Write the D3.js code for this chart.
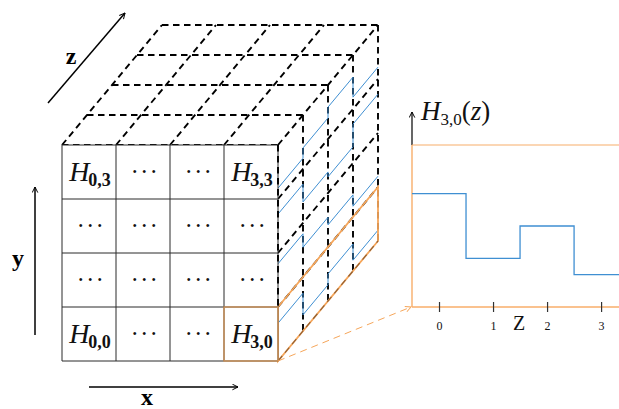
<!DOCTYPE html>
<html>
<head>
<meta charset="utf-8">
<script src="https://cdn.jsdelivr.net/npm/d3@7"></script>
<style>
  html, body { margin: 0; padding: 0; background: #fff; }
  svg { display: block; }
  .serif { font-family: "Liberation Serif", "DejaVu Serif", serif; }
</style>
</head>
<body>
<div id="chart"></div>
<script>
// --- datos ---
const layers = [0, 1, 2, 3];                 // índice z de cada capa
const zTicks = [0, 1, 2, 3];
const h30 = [0.70, 0.30, 0.50, 0.20];        // H_{3,0}(z), altura relativa
const h31 = [0.80, 0.55, 0.41, 0.20];
const h32 = [0.72, 0.39, 0.30, 0.72];
const h33 = [0.20, 0.39, 0.59, 0.22];
const rowsLastCol = [h30, h31, h32, h33];
const cellLabels = [
  ["H|0,0", "⋯", "⋯", "H|3,0"],
  ["⋯", "⋯", "⋯", "⋯"],
  ["⋯", "⋯", "⋯", "⋯"],
  ["H|0,3", "⋯", "⋯", "H|3,3"]
];

const width = 619, height = 409;
const svg = d3.select("#chart").append("svg")
  .attr("width", width).attr("height", height);

const defs = svg.append("defs");
function arrowMarker(id, color) {
  defs.append("marker").attr("id", id)
    .attr("viewBox", "0 0 10 10").attr("refX", 9).attr("refY", 5)
    .attr("markerWidth", 7).attr("markerHeight", 7)
    .attr("markerUnits", "userSpaceOnUse")
    .attr("orient", "auto")
    .append("path").attr("d", "M1,1 L9,5 L1,9").attr("fill", "none")
    .attr("stroke", color).attr("stroke-width", 1.4);
}
arrowMarker("arrK", "#000");
arrowMarker("arrO", "#f6a65a");

// --- escalas del cubo ---
const xCell = d3.scaleLinear().domain([0, 4]).range([62, 278]);
const yCell = d3.scaleLinear().domain([0, 4]).range([361, 145]);
const dX = d3.scaleLinear().domain([0, 4]).range([0, 100]);
const dY = d3.scaleLinear().domain([0, 4]).range([0, -120]);
const proj = (cx, cy, d) => [xCell(cx) + dX(d), yCell(cy) + dY(d)];

const dash = "6.5,4.5";
const dashW = 1.9;
const g = svg.append("g");

function dashed(a, b) {
  g.append("line").attr("x1", a[0]).attr("y1", a[1]).attr("x2", b[0]).attr("y2", b[1])
    .attr("stroke", "#000").attr("stroke-width", dashW).attr("stroke-dasharray", dash);
}

// cara superior (discontinua)
d3.range(0, 5).forEach(k => dashed(proj(0, 4, k), proj(4, 4, k)));
d3.range(0, 5).forEach(i => dashed(proj(i, 4, 0), proj(i, 4, 4)));
// cara lateral: diagonales en profundidad y verticales de cada capa
[1, 2, 3].forEach(j => dashed(proj(4, j, 0), proj(4, j, 4)));
d3.range(1, 5).forEach(k => dashed(proj(4, 4, k), proj(4, 0, k)));

// curvas azules H_{3,j}(z) sobre la cara lateral
const sideLine = d3.line();
rowsLastCol.forEach((vals, j) => {
  const pts = [];
  layers.forEach((k, idx) => {
    pts.push(proj(4, j + vals[idx], k));
    pts.push(proj(4, j + vals[idx], k + 1));
  });
  g.append("path").attr("d", sideLine(pts)).attr("fill", "none")
    .attr("stroke", "#3f8fd2").attr("stroke-width", 1);
});

// paralelogramo naranja (fila 0, columna 3)
const para = [proj(4, 1, 0), proj(4, 1, 4), proj(4, 0, 4), proj(4, 0, 0)];
g.append("path").attr("d", d3.line()(para) + "Z").attr("fill", "none")
  .attr("stroke", "#f6a65a").attr("stroke-width", 1.8);
{
  const a = proj(4, 0, 0), b = proj(4, 0, 4);
  g.append("line").attr("x1", a[0]).attr("y1", a[1]).attr("x2", b[0]).attr("y2", b[1])
    .attr("stroke", "#6b4423").attr("stroke-width", 1.2).attr("stroke-dasharray", dash)
    .attr("opacity", 0.7);
}

// cara frontal: rejilla sólida
const front = svg.append("g");
front.append("rect").attr("x", xCell(0)).attr("y", yCell(4))
  .attr("width", xCell(4) - xCell(0)).attr("height", yCell(0) - yCell(4))
  .attr("fill", "#fff");
d3.range(0, 5).forEach(i => {
  front.append("line").attr("x1", xCell(i)).attr("x2", xCell(i))
    .attr("y1", yCell(0)).attr("y2", yCell(4)).attr("stroke", "#2a2a2a").attr("stroke-width", 1);
  front.append("line").attr("y1", yCell(i)).attr("y2", yCell(i))
    .attr("x1", xCell(0)).attr("x2", xCell(4)).attr("stroke", "#2a2a2a").attr("stroke-width", 1);
});
// borde derecho discontinuo sobre la arista
front.append("line").attr("x1", xCell(4)).attr("x2", xCell(4))
  .attr("y1", yCell(4)).attr("y2", yCell(1))
  .attr("stroke", "#000").attr("stroke-width", dashW).attr("stroke-dasharray", dash);
// celda H_{3,0} en naranja
front.append("rect").attr("x", xCell(3)).attr("y", yCell(1))
  .attr("width", xCell(4) - xCell(3)).attr("height", yCell(0) - yCell(1))
  .attr("fill", "none").attr("stroke", "#cf9358").attr("stroke-width", 1.4);

// etiquetas de celdas
cellLabels.forEach((row, j) => {
  row.forEach((lab, i) => {
    const cx = (xCell(i) + xCell(i + 1)) / 2;
    const cy = (yCell(j) + yCell(j + 1)) / 2;
    if (lab === "⋯") {
      front.append("text").attr("x", cx + 2.5).attr("y", cy + 7)
        .attr("text-anchor", "middle").style("font-family", "'DejaVu Serif', serif")
        .style("font-size", "22px").style("letter-spacing", "2.5px").attr("fill", "#111")
        .text("···");
    } else {
      const sub = lab.split("|")[1];
      const t = front.append("text").attr("x", cx + 1).attr("y", cy + 9)
        .attr("text-anchor", "middle").attr("class", "serif").attr("fill", "#111");
      t.append("tspan").style("font-style", "italic").style("font-size", "28px").text("H");
      t.append("tspan").attr("dx", -1).attr("dy", 5).style("font-weight", "bold").style("font-size", "18px").text(sub);
    }
  });
});

// ejes del cubo x, y, z
svg.append("line").attr("x1", 89).attr("y1", 387).attr("x2", 238).attr("y2", 387)
  .attr("stroke", "#000").attr("stroke-width", 1.5).attr("marker-end", "url(#arrK)");
svg.append("line").attr("x1", 35).attr("y1", 335).attr("x2", 35).attr("y2", 187)
  .attr("stroke", "#000").attr("stroke-width", 1.5).attr("marker-end", "url(#arrK)");
svg.append("line").attr("x1", 48).attr("y1", 103).attr("x2", 125).attr("y2", 13)
  .attr("stroke", "#000").attr("stroke-width", 1.5).attr("marker-end", "url(#arrK)");
svg.append("text").attr("x", 147).attr("y", 405).attr("text-anchor", "middle").attr("class", "serif")
  .style("font-weight", "bold").style("font-size", "24px").text("x");
svg.append("text").attr("x", 18).attr("y", 266).attr("text-anchor", "middle").attr("class", "serif")
  .style("font-weight", "bold").style("font-size", "24px").text("y");
svg.append("text").attr("x", 71).attr("y", 64).attr("text-anchor", "middle").attr("class", "serif")
  .style("font-weight", "bold").style("font-size", "24px").text("z");

// --- gráfica H_{3,0}(z) ---
const xz = d3.scaleLinear().domain([-0.5, 3.35]).range([412, 620]);
const yh = d3.scaleLinear().domain([0, 1]).range([307, 145]);

// flecha discontinua naranja desde la celda
svg.append("line").attr("x1", xCell(4)).attr("y1", yCell(0)).attr("x2", xz(-0.5) - 1).attr("y2", yh(0))
  .attr("stroke", "#f6a65a").attr("stroke-width", 1).attr("stroke-dasharray", "7,5")
  .attr("marker-end", "url(#arrO)");

const plot = svg.append("g");
plot.append("line").attr("x1", xz(-0.5)).attr("x2", xz(-0.5)).attr("y1", yh(1)).attr("y2", 112)
  .attr("stroke", "#000").attr("stroke-width", 1.2).attr("marker-end", "url(#arrK)");
plot.append("line").attr("x1", xz(-0.5)).attr("x2", xz(-0.5)).attr("y1", yh(0)).attr("y2", yh(1))
  .attr("stroke", "#f8ae6a").attr("stroke-width", 1.4);
plot.append("line").attr("x1", xz(-0.5)).attr("x2", width).attr("y1", yh(1)).attr("y2", yh(1))
  .attr("stroke", "#f8ae6a").attr("stroke-width", 1.2);
plot.append("line").attr("x1", xz(-0.5)).attr("x2", width).attr("y1", yh(0)).attr("y2", yh(0))
  .attr("stroke", "#f8ae6a").attr("stroke-width", 1.4);

const ax = plot.append("g").attr("transform", `translate(0,${yh(0) - 5})`)
  .call(d3.axisBottom(xz).tickValues(zTicks).tickSize(10).tickPadding(9).tickFormat(d3.format("d")));
ax.select(".domain").remove();
ax.selectAll(".tick line").attr("stroke", "#333").attr("stroke-width", 1.2);
ax.selectAll(".tick text").attr("class", "serif").style("font-size", "12px")
  .style("font-family", "'Liberation Serif', serif").attr("fill", "#111");

const stepPts = layers.map((k, i) => [xz(k - 0.5), yh(h30[i])]);
stepPts.push([xz(3.35), yh(h30[h30.length - 1])]);
plot.append("path").attr("d", d3.line().curve(d3.curveStepAfter)(stepPts))
  .attr("fill", "none").attr("stroke", "#3f8fd2").attr("stroke-width", 1.3);

plot.append("text").attr("x", 519).attr("y", 330).attr("text-anchor", "middle").attr("class", "serif")
  .style("font-size", "20px").attr("fill", "#111").text("Z");

const lab = plot.append("text").attr("x", 421).attr("y", 120).attr("class", "serif").attr("fill", "#111");
lab.append("tspan").style("font-style", "italic").style("font-size", "27px").text("H");
lab.append("tspan").attr("dy", 5).style("font-size", "17px").text("3,0");
lab.append("tspan").attr("dy", -5).style("font-size", "27px").text("(");
lab.append("tspan").style("font-style", "italic").style("font-size", "27px").text("z");
lab.append("tspan").style("font-size", "27px").text(")");
</script>
</body>
</html>
